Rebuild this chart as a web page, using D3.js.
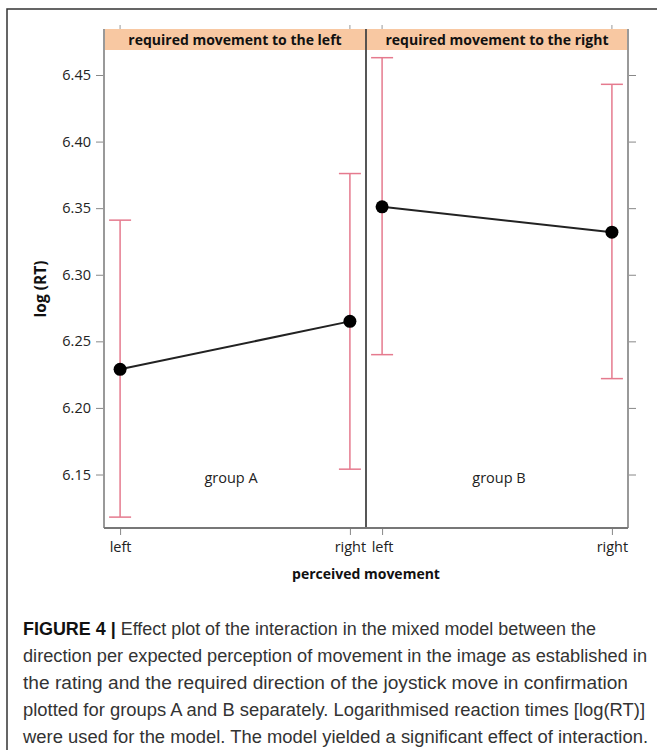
<!DOCTYPE html>
<html><head><meta charset="utf-8">
<script src="https://cdn.jsdelivr.net/npm/d3@7"></script>
<style>
html,body{margin:0;padding:0;background:#fff;}
svg{display:block;}
</style></head>
<body>
<svg id="chart" width="657" height="750"></svg>
<script>
// ---- data ----
const panelTitles = ["required movement to the left", "required movement to the right"];
const groupLabels = ["group A", "group B"];
const xCategories = ["left", "right"];
const estimateA = [6.229, 6.265];
const estimateB = [6.351, 6.332];
const lowerA = [6.118, 6.154];
const lowerB = [6.240, 6.222];
const upperA = [6.341, 6.376];
const upperB = [6.463, 6.443];
const yTicks = [6.15, 6.20, 6.25, 6.30, 6.35, 6.40, 6.45];
const yLabel = "log (RT)";
const xLabel = "perceived movement";
const captionBold = "FIGURE 4 |";
const captionLines = [
  " Effect plot of the interaction in the mixed model between the",
  "direction per expected perception of movement in the image as established in",
  "the rating and the required direction of the joystick move in confirmation",
  "plotted for groups A and B separately. Logarithmised reaction times [log(RT)]",
  "were used for the model. The model yielded a significant effect of interaction."
];

const estimates = [estimateA, estimateB];
const lowers = [lowerA, lowerB];
const uppers = [upperA, upperB];

const svg = d3.select("#chart");
const font = "'Open Sans', 'DejaVu Sans', sans-serif";

// outer frame
svg.append("rect").attr("x", 7).attr("y", 9).attr("width", 700).attr("height", 800)
  .attr("fill", "none").attr("stroke", "#333").attr("stroke-width", 1.5);

const plotLeft = 104, panelW = 262, stripTop = 29, stripH = 21, plotTop = 50, plotBottom = 528;

const y = d3.scaleLinear().domain([6.15, 6.45]).range([474.5, 75]);

const errColor = "#e57a8e";

panelTitles.forEach((title, i) => {
  const x0 = plotLeft + i * panelW;
  const x = d3.scalePoint().domain(xCategories).range([x0, x0 + panelW]).padding(0.07);
  const g = svg.append("g");

  // strip
  g.append("rect").attr("x", x0).attr("y", stripTop).attr("width", panelW).attr("height", stripH)
    .attr("fill", "#f8c8a2");
  g.append("text").attr("x", x0 + panelW / 2).attr("y", stripTop + 15.5)
    .attr("text-anchor", "middle").attr("font-family", font).attr("font-weight", "bold")
    .attr("font-size", 14).attr("fill", "#111").text(title);

  // top ticks
  xCategories.forEach(c => {
    g.append("line").attr("x1", x(c)).attr("x2", x(c)).attr("y1", stripTop).attr("y2", stripTop - 4)
      .attr("stroke", "#999").attr("stroke-width", 1);
  });

  // error bars
  xCategories.forEach((c, j) => {
    const cx = x(c);
    g.append("line").attr("x1", cx).attr("x2", cx).attr("y1", y(lowers[i][j])).attr("y2", y(uppers[i][j]))
      .attr("stroke", errColor).attr("stroke-width", 1.5);
    [lowers[i][j], uppers[i][j]].forEach(v => {
      g.append("line").attr("x1", cx - 11).attr("x2", cx + 11).attr("y1", y(v)).attr("y2", y(v))
        .attr("stroke", errColor).attr("stroke-width", 1.5);
    });
  });

  // line
  const line = d3.line().x((d, j) => x(xCategories[j])).y(d => y(d));
  g.append("path").datum(estimates[i]).attr("d", line).attr("fill", "none")
    .attr("stroke", "#222").attr("stroke-width", 2);
  g.selectAll("circle.pt").data(estimates[i]).enter().append("circle")
    .attr("cx", (d, j) => x(xCategories[j])).attr("cy", d => y(d)).attr("r", 6.5).attr("fill", "#000");

  // group label
  g.append("text").attr("x", x0 + panelW / 2 - 4 + i * 6).attr("y", 483)
    .attr("text-anchor", "middle").attr("font-family", font).attr("font-size", 14.5)
    .attr("fill", "#222").text(groupLabels[i]);

  // bottom axis ticks/labels
  const xAxis = d3.axisBottom(x).tickSize(7).tickPadding(7);
  const ax = svg.append("g").attr("transform", `translate(0,${plotBottom})`).call(xAxis);
  ax.select(".domain").remove();
  ax.selectAll("line").attr("stroke", "#888");
  ax.selectAll("text").attr("font-family", font).attr("font-size", 14.5).attr("fill", "#222");
});

// panel borders
svg.append("line").attr("x1", plotLeft).attr("x2", plotLeft).attr("y1", stripTop).attr("y2", plotBottom)
  .attr("stroke", "#999").attr("stroke-width", 2);
svg.append("line").attr("x1", plotLeft + 2 * panelW).attr("x2", plotLeft + 2 * panelW).attr("y1", stripTop).attr("y2", plotBottom)
  .attr("stroke", "#999").attr("stroke-width", 2);
svg.append("line").attr("x1", plotLeft + panelW).attr("x2", plotLeft + panelW).attr("y1", stripTop).attr("y2", plotBottom)
  .attr("stroke", "#444").attr("stroke-width", 1.8);
svg.append("line").attr("x1", plotLeft).attr("x2", plotLeft + 2 * panelW).attr("y1", plotBottom).attr("y2", plotBottom)
  .attr("stroke", "#777").attr("stroke-width", 1.8);

// y axis left
const yAx = svg.append("g").attr("transform", `translate(${plotLeft - 1},0)`)
  .call(d3.axisLeft(y).tickValues(yTicks).tickFormat(d3.format(".2f")).tickSize(7).tickPadding(5));
yAx.select(".domain").remove();
yAx.selectAll("line").attr("stroke", "#888");
yAx.selectAll("text").attr("font-family", font).attr("font-size", 14.5).attr("fill", "#222");

// y axis right (ticks only)
const yAxR = svg.append("g").attr("transform", `translate(${plotLeft + 2 * panelW + 1},0)`)
  .call(d3.axisRight(y).tickValues(yTicks).tickFormat("").tickSize(7));
yAxR.select(".domain").remove();
yAxR.selectAll("line").attr("stroke", "#888");

// axis titles
svg.append("text").attr("transform", `translate(46,${(plotTop + plotBottom) / 2}) rotate(-90)`)
  .attr("text-anchor", "middle").attr("font-family", font).attr("font-weight", "bold")
  .attr("font-size", 15.5).attr("fill", "#111").text(yLabel);
svg.append("text").attr("x", plotLeft + panelW).attr("y", 579)
  .attr("text-anchor", "middle").attr("font-family", font).attr("font-weight", "bold")
  .attr("font-size", 14).attr("fill", "#111").text(xLabel);

// caption
const capFont = "'Liberation Sans', Arial, sans-serif";
const capEnds = [596, 647, 628, 645, 648];
const capX = 23;
captionLines.forEach((t, k) => {
  const txt = svg.append("text").attr("y", 635 + k * 27).attr("font-family", capFont)
    .attr("font-size", 17.5).attr("fill", "#333");
  txt.attr("x", capX);
  if (k === 0) {
    txt.append("tspan").attr("font-weight", "bold").attr("fill", "#111").text(captionBold);
    txt.append("tspan").text(t);
  } else {
    txt.text(t);
  }
  txt.attr("textLength", capEnds[k] - capX).attr("lengthAdjust", "spacingAndGlyphs");
});
</script>
</body></html>
